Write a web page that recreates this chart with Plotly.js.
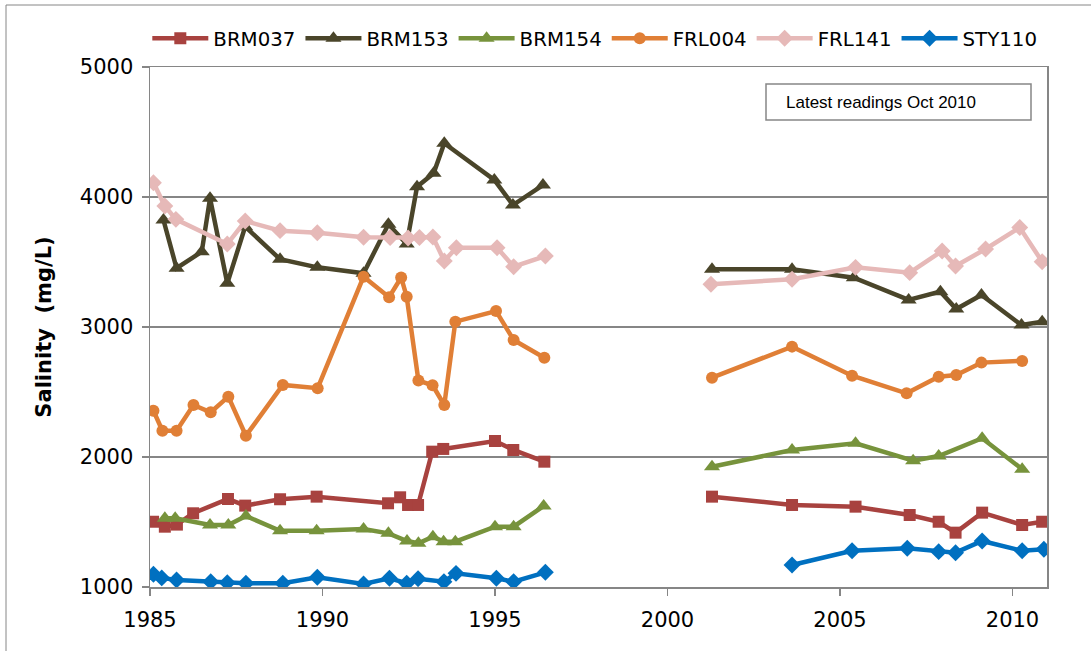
<!DOCTYPE html>
<html>
<head>
<meta charset="utf-8">
<script src="https://cdn.plot.ly/plotly-3.0.1.min.js"></script>
<style>
html,body{margin:0;padding:0;background:#fff;}
#chart{width:1091px;height:651px;}
</style>
</head>
<body>
<div id="chart"></div>
<script>
// Sampling dates (decimal years) and salinity (mg/L); null marks the data gap 1996-2001
var brm037X = [1985.09,1985.43,1985.78,1986.25,1987.26,1987.76,1988.77,1989.83,1991.9,1992.25,1992.48,1992.77,1993.18,1993.5,1995.0,1995.53,1996.43,1998.8,2001.29,2003.61,2005.45,2007.02,2007.86,2008.35,2009.12,2010.28,2010.86];
var brm037Y = [1502,1464,1480,1567,1677,1626,1675,1695,1644,1690,1631,1631,2041,2062,2123,2054,1964,null,1695,1631,1618,1554,1502,1418,1572,1477,1502];

var brm153X = [1985.39,1985.77,1986.5,1986.74,1987.24,1987.76,1988.77,1989.85,1991.19,1991.91,1992.44,1992.74,1993.22,1993.53,1994.98,1995.52,1996.39,1998.8,2001.29,2003.61,2005.4,2006.99,2007.91,2008.37,2009.1,2010.26,2010.86];
var brm153Y = [3823,3452,3579,3990,3336,3772,3521,3459,3413,3790,3638,4079,4182,4413,4131,3938,4092,null,3444,3444,3379,3208,3272,3138,3246,3015,3041];

var brm154X = [1985.43,1985.73,1986.74,1987.27,1987.78,1988.77,1989.83,1991.19,1991.91,1992.45,1992.78,1993.2,1993.51,1993.85,1995.0,1995.54,1996.41,1998.8,2001.29,2003.61,2005.45,2007.12,2007.86,2009.12,2010.28];
var brm154Y = [1529,1529,1477,1477,1546,1433,1433,1446,1413,1354,1336,1387,1349,1349,1464,1464,1623,null,1925,2054,2105,1972,2008,2144,1906];

var frl004X = [1985.1,1985.36,1985.77,1986.26,1986.76,1987.27,1987.78,1988.85,1989.86,1991.19,1991.93,1992.28,1992.44,1992.78,1993.19,1993.53,1993.85,1995.03,1995.54,1996.43,1998.8,2001.29,2003.61,2005.35,2006.93,2007.86,2008.37,2009.1,2010.28];
var frl004Y = [2356,2202,2202,2400,2344,2464,2164,2554,2529,3387,3229,3381,3233,2588,2552,2400,3041,3123,2900,2764,null,2610,2849,2625,2490,2618,2631,2726,2739];

var frl141X = [1985.1,1985.43,1985.75,1987.24,1987.76,1988.77,1989.85,1991.19,1991.96,1992.48,1992.81,1993.2,1993.53,1993.88,1995.06,1995.54,1996.46,1998.8,2001.26,2003.61,2005.45,2007.02,2007.96,2008.35,2009.22,2010.21,2010.86];
var frl141Y = [4110,3931,3828,3638,3815,3741,3725,3690,3688,3685,3688,3692,3508,3610,3610,3464,3546,null,3329,3367,3459,3418,3585,3469,3600,3765,3502];

var sty110X = [1985.1,1985.34,1985.77,1986.76,1987.24,1987.78,1988.85,1989.85,1991.19,1991.94,1992.44,1992.77,1993.52,1993.87,1995.04,1995.54,1996.46,1998.8,2003.61,2005.35,2006.95,2007.86,2008.35,2009.12,2010.28,2010.91];
var sty110Y = [1098,1070,1054,1041,1033,1029,1029,1075,1023,1067,1029,1064,1041,1105,1067,1041,1113,null,1169,1279,1298,1272,1264,1354,1279,1290];

var seriesNames = ['BRM037','BRM153','BRM154','FRL004','FRL141','STY110'];
var yTicks = [1000,2000,3000,4000,5000];
var xTicks = [1985,1990,1995,2000,2005,2010];
var noteText = 'Latest readings Oct 2010';

var FONT = '"DejaVu Sans", sans-serif';

function mk(name, x, y, color, symbol, size) {
  return {
    type: 'scatter', mode: 'lines+markers', name: name, x: x, y: y,
    connectgaps: false,
    line: {color: color, width: 4.5},
    marker: {color: color, symbol: symbol, size: size, line: {width: 0}}
  };
}

var data = [
  mk(seriesNames[0], brm037X, brm037Y, '#A8423F', 'square', 12),
  mk(seriesNames[1], brm153X, brm153Y, '#4A452A', 'triangle-up', 14),
  mk(seriesNames[2], brm154X, brm154Y, '#77933C', 'triangle-up', 14),
  mk(seriesNames[3], frl004X, frl004Y, '#E07F36', 'circle', 12),
  mk(seriesNames[4], frl141X, frl141Y, '#E6B9B8', 'diamond', 13),
  mk(seriesNames[5], sty110X, sty110Y, '#0070C0', 'diamond', 13)
];

var layout = {
  width: 1091, height: 651,
  margin: {l: 150, r: 44, t: 67, b: 64},
  paper_bgcolor: '#fff', plot_bgcolor: '#fff',
  font: {family: FONT, size: 19, color: '#000'},
  showlegend: true,
  legend: {
    orientation: 'h', x: -0.003, xanchor: 'left', y: 1.055, yanchor: 'middle',
    font: {family: FONT, size: 19.8, color: '#000'},
    itemwidth: 56, tracegroupgap: 0, bgcolor: 'rgba(0,0,0,0)'
  },
  xaxis: {
    range: [1985, 2011], tickvals: xTicks, ticktext: xTicks.map(String),
    showgrid: false, zeroline: false,
    showline: true, linecolor: '#868686', linewidth: 1.5, mirror: true,
    ticks: 'outside', ticklen: 7, tickcolor: '#868686', tickwidth: 1.5,
    ticklabelstandoff: 6,
    tickfont: {family: FONT, size: 21, color: '#000'}
  },
  yaxis: {
    range: [1000, 5000], tickvals: yTicks, ticktext: yTicks.map(String),
    showgrid: true, gridcolor: '#868686', gridwidth: 1.5, zeroline: false,
    showline: true, linecolor: '#868686', linewidth: 1.5, mirror: true,
    ticks: 'outside', ticklen: 7, tickcolor: '#868686', tickwidth: 1.5,
    ticklabelstandoff: 4,
    tickfont: {family: FONT, size: 21, color: '#000'},
    title: {text: '<b>Salinity&nbsp; (mg/L)</b>', font: {family: FONT, size: 21, color: '#000'}, standoff: 22}
  },
  shapes: [
    {type: 'rect', xref: 'paper', yref: 'paper', x0: (766-150)/897, x1: (1031-150)/897, y0: (587-120)/520, y1: (587-84)/520,
     line: {color: '#868686', width: 1.5}, fillcolor: '#fff'},
    {type: 'rect', xref: 'paper', yref: 'paper', x0: (6-150)/897, x1: 1.2, y0: -0.3, y1: (587-5)/520,
     line: {color: '#868686', width: 1}, fillcolor: 'rgba(0,0,0,0)', layer: 'below'}
  ],
  annotations: [
    {xref: 'paper', yref: 'paper', x: (784-150)/897, y: (587-102)/520, xanchor: 'left', yanchor: 'middle',
     text: noteText, showarrow: false, font: {family: '"Liberation Sans", Arial, sans-serif', size: 17, color: '#000'}}
  ]
};

Plotly.newPlot('chart', data, layout, {displayModeBar: false, staticPlot: true});
</script>
</body>
</html>
